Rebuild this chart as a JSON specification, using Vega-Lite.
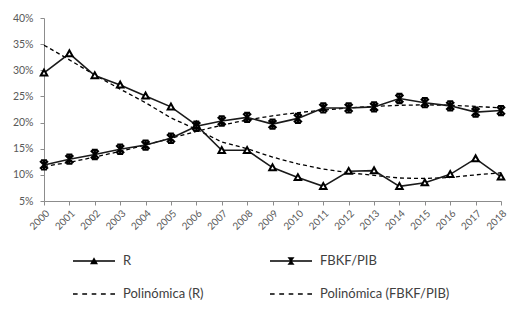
{
  "$schema": "https://vega.github.io/schema/vega-lite/v6.json",
  "width": 457,
  "height": 183,
  "autosize": "none",
  "padding": {"left": 44, "top": 18, "right": 30, "bottom": 115},
  "background": "white",
  "config": {
    "view": {"stroke": null},
    "font": "Lato",
    "axis": {"labelFont": "Lato", "labelColor": "#595959", "domainColor": "#8c8c8c", "tickColor": "#8c8c8c", "grid": false, "title": null}
  },
  "data": {"values": [
    {"year": "2000", "series": "R", "value": 0.295},
    {"year": "2001", "series": "R", "value": 0.332},
    {"year": "2002", "series": "R", "value": 0.290},
    {"year": "2003", "series": "R", "value": 0.272},
    {"year": "2004", "series": "R", "value": 0.251},
    {"year": "2005", "series": "R", "value": 0.230},
    {"year": "2006", "series": "R", "value": 0.195},
    {"year": "2007", "series": "R", "value": 0.147},
    {"year": "2008", "series": "R", "value": 0.147},
    {"year": "2009", "series": "R", "value": 0.114},
    {"year": "2010", "series": "R", "value": 0.095},
    {"year": "2011", "series": "R", "value": 0.078},
    {"year": "2012", "series": "R", "value": 0.107},
    {"year": "2013", "series": "R", "value": 0.108},
    {"year": "2014", "series": "R", "value": 0.078},
    {"year": "2015", "series": "R", "value": 0.085},
    {"year": "2016", "series": "R", "value": 0.101},
    {"year": "2017", "series": "R", "value": 0.131},
    {"year": "2018", "series": "R", "value": 0.096},
    {"year": "2000", "series": "FBKF/PIB", "value": 0.119},
    {"year": "2001", "series": "FBKF/PIB", "value": 0.130},
    {"year": "2002", "series": "FBKF/PIB", "value": 0.139},
    {"year": "2003", "series": "FBKF/PIB", "value": 0.149},
    {"year": "2004", "series": "FBKF/PIB", "value": 0.157},
    {"year": "2005", "series": "FBKF/PIB", "value": 0.170},
    {"year": "2006", "series": "FBKF/PIB", "value": 0.193},
    {"year": "2007", "series": "FBKF/PIB", "value": 0.203},
    {"year": "2008", "series": "FBKF/PIB", "value": 0.210},
    {"year": "2009", "series": "FBKF/PIB", "value": 0.197},
    {"year": "2010", "series": "FBKF/PIB", "value": 0.208},
    {"year": "2011", "series": "FBKF/PIB", "value": 0.228},
    {"year": "2012", "series": "FBKF/PIB", "value": 0.228},
    {"year": "2013", "series": "FBKF/PIB", "value": 0.230},
    {"year": "2014", "series": "FBKF/PIB", "value": 0.246},
    {"year": "2015", "series": "FBKF/PIB", "value": 0.238},
    {"year": "2016", "series": "FBKF/PIB", "value": 0.232},
    {"year": "2017", "series": "FBKF/PIB", "value": 0.220},
    {"year": "2018", "series": "FBKF/PIB", "value": 0.223},
    {"year": "2000", "series": "Polinómica (R)", "value": 0.348},
    {"year": "2001", "series": "Polinómica (R)", "value": 0.320},
    {"year": "2002", "series": "Polinómica (R)", "value": 0.291},
    {"year": "2003", "series": "Polinómica (R)", "value": 0.264},
    {"year": "2004", "series": "Polinómica (R)", "value": 0.238},
    {"year": "2005", "series": "Polinómica (R)", "value": 0.209},
    {"year": "2006", "series": "Polinómica (R)", "value": 0.187},
    {"year": "2007", "series": "Polinómica (R)", "value": 0.163},
    {"year": "2008", "series": "Polinómica (R)", "value": 0.150},
    {"year": "2009", "series": "Polinómica (R)", "value": 0.134},
    {"year": "2010", "series": "Polinómica (R)", "value": 0.121},
    {"year": "2011", "series": "Polinómica (R)", "value": 0.111},
    {"year": "2012", "series": "Polinómica (R)", "value": 0.104},
    {"year": "2013", "series": "Polinómica (R)", "value": 0.099},
    {"year": "2014", "series": "Polinómica (R)", "value": 0.094},
    {"year": "2015", "series": "Polinómica (R)", "value": 0.093},
    {"year": "2016", "series": "Polinómica (R)", "value": 0.095},
    {"year": "2017", "series": "Polinómica (R)", "value": 0.100},
    {"year": "2018", "series": "Polinómica (R)", "value": 0.104},
    {"year": "2000", "series": "Polinómica (FBKF/PIB)", "value": 0.116},
    {"year": "2001", "series": "Polinómica (FBKF/PIB)", "value": 0.124},
    {"year": "2002", "series": "Polinómica (FBKF/PIB)", "value": 0.134},
    {"year": "2003", "series": "Polinómica (FBKF/PIB)", "value": 0.145},
    {"year": "2004", "series": "Polinómica (FBKF/PIB)", "value": 0.157},
    {"year": "2005", "series": "Polinómica (FBKF/PIB)", "value": 0.170},
    {"year": "2006", "series": "Polinómica (FBKF/PIB)", "value": 0.183},
    {"year": "2007", "series": "Polinómica (FBKF/PIB)", "value": 0.195},
    {"year": "2008", "series": "Polinómica (FBKF/PIB)", "value": 0.205},
    {"year": "2009", "series": "Polinómica (FBKF/PIB)", "value": 0.213},
    {"year": "2010", "series": "Polinómica (FBKF/PIB)", "value": 0.219},
    {"year": "2011", "series": "Polinómica (FBKF/PIB)", "value": 0.224},
    {"year": "2012", "series": "Polinómica (FBKF/PIB)", "value": 0.228},
    {"year": "2013", "series": "Polinómica (FBKF/PIB)", "value": 0.231},
    {"year": "2014", "series": "Polinómica (FBKF/PIB)", "value": 0.233},
    {"year": "2015", "series": "Polinómica (FBKF/PIB)", "value": 0.234},
    {"year": "2016", "series": "Polinómica (FBKF/PIB)", "value": 0.233},
    {"year": "2017", "series": "Polinómica (FBKF/PIB)", "value": 0.231},
    {"year": "2018", "series": "Polinómica (FBKF/PIB)", "value": 0.228}
  ]},
  "encoding": {
    "x": {
      "field": "year", "type": "ordinal",
      "scale": {"type": "point", "padding": 0},
      "axis": {"labelAngle": -45, "labelFontSize": 10, "tickSize": 4, "labelPadding": 3}
    },
    "y": {
      "field": "value", "type": "quantitative",
      "scale": {"domain": [0.05, 0.40], "nice": false, "zero": false},
      "axis": {"values": [0.05, 0.10, 0.15, 0.20, 0.25, 0.30, 0.35, 0.40], "format": ".0%", "labelFontSize": 10.5, "tickSize": 4, "labelPadding": 7}
    }
  },
  "layer": [
    {
      "transform": [{"filter": "indexof(datum.series, 'Polinómica') === 0"}],
      "mark": {"type": "line", "color": "black", "strokeWidth": 1.3, "strokeDash": [4, 3]},
      "encoding": {"detail": {"field": "series"}}
    },
    {
      "transform": [{"filter": "indexof(datum.series, 'Polinómica') < 0"}],
      "mark": {"type": "line", "color": "#1a1a1a", "strokeWidth": 1.6},
      "encoding": {"detail": {"field": "series"}}
    },
    {
      "transform": [{"filter": "datum.series === 'R'"}],
      "mark": {"type": "point", "shape": "M-0.62,0.5L0,-0.62L0.62,0.5Z", "filled": false, "fill": "white", "fillOpacity": 1, "stroke": "black", "strokeWidth": 2, "opacity": 1, "size": 110}
    },
    {
      "transform": [{"filter": "datum.series === 'FBKF/PIB'"}],
      "mark": {"type": "point", "shape": "M-0.6,-0.6L0.6,0.6M0.6,-0.6L-0.6,0.6M0,-0.7L0,0.7M-0.45,-0.7L0.45,-0.7M-0.45,0.7L0.45,0.7", "filled": false, "stroke": "black", "strokeWidth": 2.2, "opacity": 1, "size": 170}
    },
    {
      "transform": [{"filter": "datum.value < 0"}],
      "mark": {"type": "point", "filled": true, "color": "black"},
      "encoding": {
        "shape": {
          "field": "series", "type": "nominal",
          "scale": {"domain": ["R", "FBKF/PIB", "Polinómica (R)", "Polinómica (FBKF/PIB)"],
                    "range": [
                      "M-1,-0.035L1,-0.035L1,0.035L-1,0.035ZM-0.19,0.16L0,-0.18L0.19,0.16Z",
                      "M-1,-0.035L1,-0.035L1,0.035L-1,0.035ZM-0.17,-0.18L0.17,-0.18L0.03,0L0.17,0.18L-0.17,0.18L-0.03,0Z",
                      "M-1,-0.03L-0.78,-0.03L-0.78,0.03L-1,0.03ZM-0.56,-0.03L-0.33,-0.03L-0.33,0.03L-0.56,0.03ZM-0.11,-0.03L0.11,-0.03L0.11,0.03L-0.11,0.03ZM0.33,-0.03L0.56,-0.03L0.56,0.03L0.33,0.03ZM0.78,-0.03L1,-0.03L1,0.03L0.78,0.03Z",
                      "M-1,-0.03L-0.78,-0.03L-0.78,0.03L-1,0.03ZM-0.56,-0.03L-0.33,-0.03L-0.33,0.03L-0.56,0.03ZM-0.11,-0.03L0.11,-0.03L0.11,0.03L-0.11,0.03ZM0.33,-0.03L0.56,-0.03L0.56,0.03L0.33,0.03ZM0.78,-0.03L1,-0.03L1,0.03L0.78,0.03Z"
                    ]},
          "legend": {
            "orient": "none", "legendX": 29, "legendY": 222, "direction": "horizontal", "columns": 2,
            "title": null, "symbolSize": 1764, "symbolStrokeWidth": 0, "symbolOpacity": 1,
            "symbolFillColor": "black",
            "labelFont": "Lato", "labelFontSize": 13, "labelColor": "#404040", "labelOffset": 8,
            "columnPadding": 66, "rowPadding": 5, "labelLimit": 300
          }
        }
      }
    }
  ]
}
